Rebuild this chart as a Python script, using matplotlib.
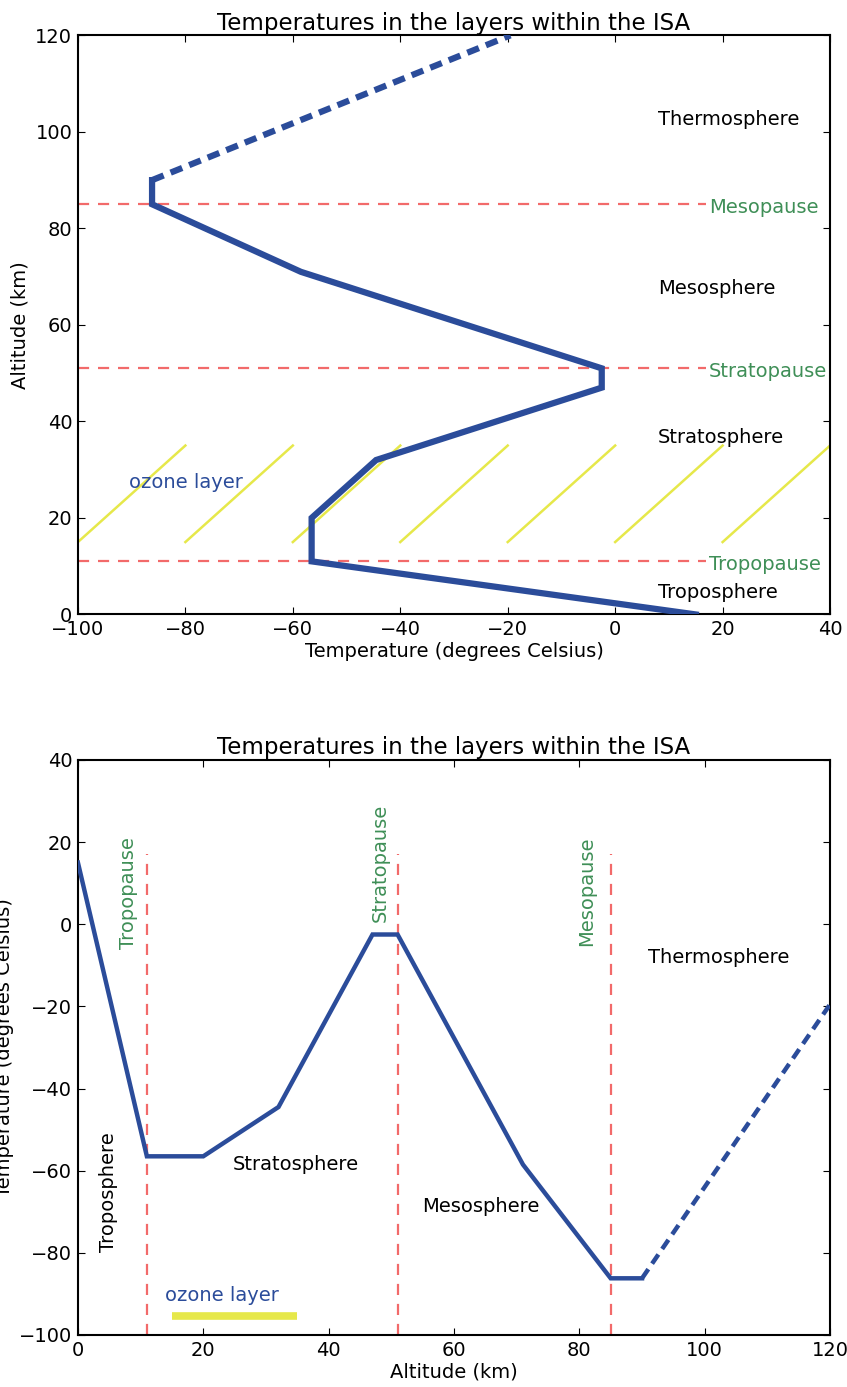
import matplotlib
matplotlib.use('Agg')
from matplotlib import pyplot as plt

# ISA profile
alt = [0, 11, 20, 32, 47, 51, 71, 85, 90]
temp = [15, -56.5, -56.5, -44.5, -2.5, -2.5, -58.5, -86.2, -86.2]
# thermosphere (dashed extension)
alt_thermo = [90, 120]
temp_thermo = [-86.2, -19.5]

pause_alt = [11, 51, 85]
pause_names = ['Tropopause', 'Stratopause', 'Mesopause']

layer_names = ['Troposphere', 'Stratosphere', 'Mesosphere', 'Thermosphere']

ozone_lo, ozone_hi = 15, 35
hatch_starts = [-100, -80, -60, -40, -20, 0, 20]

blue = '#2b4c9a'
red = '#f26a6a'
green = '#3f8f57'
yellow = '#e6e84a'

plt.rcParams['font.family'] = 'DejaVu Sans'
plt.rcParams['font.size'] = 14

fig = plt.figure(figsize=(8.47, 13.87), dpi=100)

# ---------- top: altitude vs temperature ----------
ax1 = fig.add_axes([0.092, 0.557, 0.888, 0.4175])
for x0 in hatch_starts:
    ax1.plot([x0, x0 + 20], [ozone_lo, ozone_hi], color=yellow, lw=1.8, zorder=1)
for a in pause_alt:
    ax1.plot([-100, 17], [a, a], color=red, ls='--', lw=1.6, dashes=(5, 4), zorder=2)
ax1.plot(temp, alt, color=blue, lw=4.5, solid_joinstyle='miter', zorder=3)
ax1.plot(temp_thermo, alt_thermo, color=blue, lw=4.5, ls='--', dashes=(2, 1.2), zorder=3)

for a, name in zip(pause_alt, pause_names):
    ax1.text(17.5, a - 0.6, name, color=green, va='center', ha='left')
ax1.text(8, 102.5, layer_names[3], va='center')
ax1.text(8, 67.5, layer_names[2], va='center')
ax1.text(8, 36.7, layer_names[1], va='center')
ax1.text(8, 4.6, layer_names[0], va='center')
ax1.text(-90.5, 27.4, 'ozone layer', color=blue, va='center')

ax1.set_xlim(-100, 40)
ax1.set_ylim(0, 120)
ax1.set_xticks(range(-100, 41, 20))
ax1.set_yticks(range(0, 121, 20))
ax1.set_xlabel('Temperature (degrees Celsius)', labelpad=2)
ax1.set_ylabel('Altitude (km)', labelpad=4)
ax1.set_title('Temperatures in the layers within the ISA', fontsize=16.5, pad=4)
ax1.tick_params(direction='in', top=True, right=True, length=5, pad=4)
for s in ax1.spines.values():
    s.set_linewidth(1.5)

# ---------- bottom: temperature vs altitude ----------
ax2 = fig.add_axes([0.092, 0.0375, 0.888, 0.4146])
for a in pause_alt:
    ax2.plot([a, a], [-100, 17], color=red, ls='--', lw=1.6, dashes=(5, 4), zorder=2)
ax2.plot(alt, temp, color=blue, lw=3.2, solid_joinstyle='miter', zorder=3)
ax2.plot(alt_thermo, temp_thermo, color=blue, lw=3.2, ls='--', dashes=(2.5, 1.5), zorder=3)
ax2.plot([ozone_lo, ozone_hi], [-95.3, -95.3], color=yellow, lw=5.5, solid_capstyle='butt', zorder=3)

ax2.text(8.0, 7.6, pause_names[0], color=green, rotation=90, ha='center', va='center')
ax2.text(48.2, 15.0, pause_names[1], color=green, rotation=90, ha='center', va='center')
ax2.text(81.2, 8.0, pause_names[2], color=green, rotation=90, ha='center', va='center')
ax2.text(91, -8.2, layer_names[3], va='center')
ax2.text(24.7, -58.6, layer_names[1], va='center')
ax2.text(54.9, -68.8, layer_names[2], va='center')
ax2.text(4.8, -65.2, layer_names[0], rotation=90, ha='center', va='center')
ax2.text(13.9, -90.3, 'ozone layer', color=blue, va='center')

ax2.set_xlim(0, 120)
ax2.set_ylim(-100, 40)
ax2.set_xticks(range(0, 121, 20))
ax2.set_yticks(range(-100, 41, 20))
ax2.set_xlabel('Altitude (km)', labelpad=2)
ax2.set_ylabel('Temperature (degrees Celsius)', labelpad=4)
ax2.set_title('Temperatures in the layers within the ISA', fontsize=16.5, pad=4)
ax2.tick_params(direction='in', top=True, right=True, length=5, pad=4)
for s in ax2.spines.values():
    s.set_linewidth(1.5)

fig.savefig('out.png', dpi=100)
